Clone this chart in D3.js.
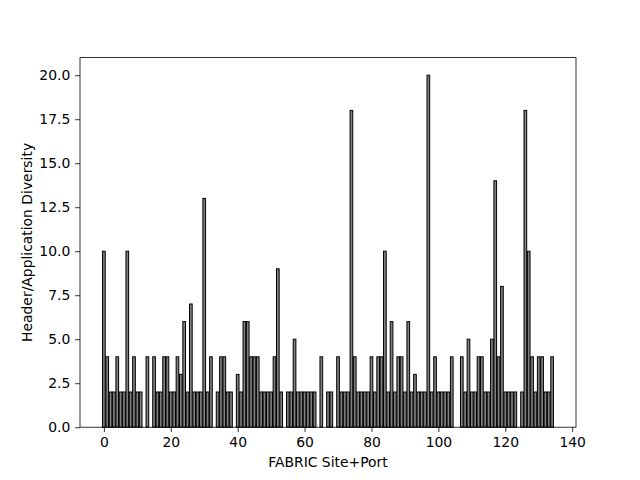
<!DOCTYPE html>
<html>
<head>
<meta charset="utf-8">
<script src="https://cdn.jsdelivr.net/npm/d3@7"></script>
<style>
  body { margin: 0; background: #fff; }
  text { font-family: "DejaVu Sans", sans-serif; }
</style>
</head>
<body>
<div id="chart"></div>
<script>
// diversity value for each site+port index (0..134)
const diversity = [
  10, 4, 2, 2, 4, 2, 2, 10, 2, 4,
  2, 2, 0, 4, 0, 4, 2, 2, 4, 4,
  2, 2, 4, 3, 6, 2, 7, 2, 2, 2,
  13, 2, 4, 0, 2, 4, 4, 2, 2, 0,
  3, 2, 6, 6, 4, 4, 4, 2, 2, 2,
  2, 4, 9, 2, 0, 2, 2, 5, 2, 2,
  2, 2, 2, 2, 0, 4, 0, 2, 2, 0,
  4, 2, 2, 2, 18, 4, 2, 2, 2, 2,
  4, 2, 4, 4, 10, 2, 6, 2, 4, 4,
  2, 6, 2, 3, 2, 2, 2, 20, 2, 4,
  2, 2, 2, 2, 4, 0, 0, 4, 2, 5,
  2, 2, 4, 4, 2, 2, 5, 14, 4, 8,
  2, 2, 2, 2, 0, 2, 18, 10, 4, 2,
  4, 4, 2, 2, 4
];
const xTicks = [0, 20, 40, 60, 80, 100, 120, 140];
const yTicks = [0, 2.5, 5, 7.5, 10, 12.5, 15, 17.5, 20];
const xLabel = "FABRIC Site+Port";
const yLabel = "Header/Application Diversity";

const width = 640, height = 480;
const margin = {left: 80, right: 64, top: 57.6, bottom: 52.8};
const barW = 0.8;

const svg = d3.select("#chart").append("svg")
  .attr("width", width)
  .attr("height", height);

const n = diversity.length;
const pad = (n - 1 + barW) * 0.05;
const x = d3.scaleLinear()
  .domain([-barW / 2 - pad, n - 1 + barW / 2 + pad])
  .range([margin.left, width - margin.right]);
const yMax = d3.max(diversity) * 1.05;
const y = d3.scaleLinear()
  .domain([0, yMax])
  .range([height - margin.bottom, margin.top]);

// bars
svg.append("g")
  .selectAll("rect")
  .data(diversity)
  .enter().append("rect")
  .attr("x", (d, i) => x(i - barW / 2))
  .attr("y", d => y(d))
  .attr("width", (d, i) => x(i + barW / 2) - x(i - barW / 2))
  .attr("height", d => y(0) - y(d))
  .attr("fill", "#808080")
  .attr("stroke", "#000")
  .attr("stroke-width", 1);

// axes
const tickSize = 4.86, tickPad = 4.86;
const xAxis = d3.axisBottom(x).tickValues(xTicks).tickSize(tickSize).tickPadding(tickPad)
  .tickFormat(d3.format("d"));
const yAxis = d3.axisLeft(y).tickValues(yTicks).tickSize(tickSize).tickPadding(tickPad)
  .tickFormat(d3.format(".1f"));

const gx = svg.append("g")
  .attr("transform", `translate(0,${height - margin.bottom})`)
  .call(xAxis);
const gy = svg.append("g")
  .attr("transform", `translate(${margin.left},0)`)
  .call(yAxis);

[gx, gy].forEach(g => {
  g.select(".domain").remove();
  g.selectAll(".tick line").attr("stroke", "#000").attr("stroke-width", 0.8);
  g.selectAll(".tick text")
    .attr("fill", "#000")
    .style("font-size", "13.9px")
    .style("font-family", "DejaVu Sans");
});

// frame
svg.append("rect")
  .attr("x", margin.left)
  .attr("y", margin.top)
  .attr("width", width - margin.left - margin.right)
  .attr("height", height - margin.top - margin.bottom)
  .attr("fill", "none")
  .attr("stroke", "#000")
  .attr("stroke-width", 0.8);

// labels
svg.append("text")
  .attr("x", (margin.left + width - margin.right) / 2)
  .attr("y", 467)
  .attr("text-anchor", "middle")
  .style("font-size", "13.9px")
  .text(xLabel);

svg.append("text")
  .attr("transform", `translate(32,${(margin.top + height - margin.bottom) / 2}) rotate(-90)`)
  .attr("text-anchor", "middle")
  .style("font-size", "13.9px")
  .text(yLabel);
</script>
</body>
</html>
